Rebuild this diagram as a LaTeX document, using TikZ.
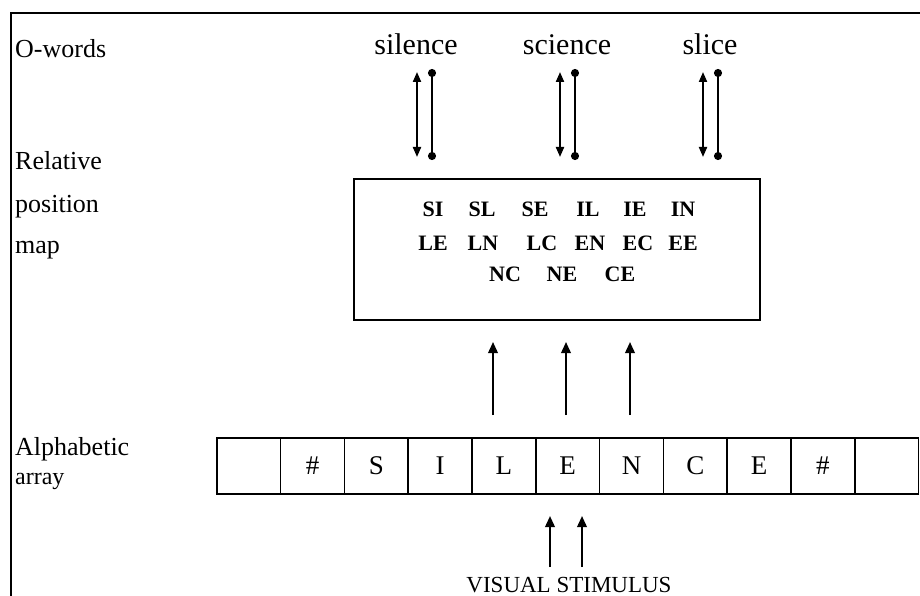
\documentclass[tikz,border=0pt]{standalone}
\usepackage{fontspec}
\setmainfont{Liberation Serif}
\usetikzlibrary{arrows.meta}
\tikzset{
  lbl/.style={anchor=base west, inner sep=0pt, font=\fontsize{26}{28}\selectfont},
  oword/.style={anchor=base, inner sep=0pt, font=\fontsize{30}{32}\selectfont},
  pair/.style={anchor=base, inner sep=0pt, font=\fontsize{22}{24}\selectfont\bfseries},
  cell/.style={draw, line width=1.6pt, minimum width=63.8pt, minimum height=56pt, inner sep=0pt, anchor=north west, font=\fontsize{27}{29}\selectfont},
  uparrow/.style={line width=2pt, -{Triangle[length=11pt,width=9.5pt]}},
  dblarrow/.style={line width=2pt, {Triangle[length=10pt,width=8pt]}-{Triangle[length=10pt,width=8pt]}},
  dotline/.style={line width=2pt, {Circle[length=8pt]}-{Circle[length=8pt]}},
  mapbox/.style={draw, line width=2pt, minimum width=406pt, minimum height=141pt, anchor=north west, inner sep=0pt}
}
\begin{document}
\begin{tikzpicture}[x=1pt,y=-1pt]
\useasboundingbox (0,0) rectangle (920,596);
% frame
\coordinate (fa) at (11,596);
\coordinate (fb) at (11,13);
\coordinate (fc) at (920,13);
\draw[line width=1.6pt] (fa) -- (fb) -- (fc);

% left labels
\node[lbl] (lo) at (15,58) {O-words};
\node[lbl] (lr) at (15,170) {Relative};
\node[lbl] (lp) at (15,212) {position};
\node[lbl] (lm) at (15,253) {map};
\node[lbl] (la) at (15,455) {Alphabetic};
\node[lbl, font=\fontsize{24}{26}\selectfont] (lar) at (15,484) {array};

% O-words
\node[oword] (w1) at (416,55) {silence};
\node[oword] (w2) at (567,55) {science};
\node[oword] (w3) at (710,55) {slice};

% map box
\node[mapbox] (map) at (353,178) {};
\node[pair] (p1) at (433,216) {SI};
\node[pair] (p2) at (482,216) {SL};
\node[pair] (p3) at (535,216) {SE};
\node[pair] (p4) at (588,216) {IL};
\node[pair] (p5) at (635,216) {IE};
\node[pair] (p6) at (683,216) {IN};
\node[pair] (p7) at (433,250) {LE};
\node[pair] (p8) at (483,250) {LN};
\node[pair] (p9) at (542,250) {LC};
\node[pair] (p10) at (590,250) {EN};
\node[pair] (p11) at (638,250) {EC};
\node[pair] (p12) at (683,250) {EE};
\node[pair] (p13) at (505,281) {NC};
\node[pair] (p14) at (562,281) {NE};
\node[pair] (p15) at (620,281) {CE};

% word <-> map connectors
\foreach \i/\xa/\xb in {1/417/432, 2/560/575, 3/703/718}{
  \coordinate (da\i) at (\xa,72);
  \coordinate (db\i) at (\xa,157);
  \coordinate (ea\i) at (\xb,69);
  \coordinate (eb\i) at (\xb,160);
  \draw[dblarrow] (da\i) -- (db\i);
  \draw[dotline] (ea\i) -- (eb\i);
}

% alphabetic array
\foreach \t [count=\i from 0] in {{},\#,S,I,L,E,N,C,E,\#,{}}{
  \node[cell] (c\i) at ({216+63.8*\i},437) {\t};
}

% array -> map arrows
\foreach \i/\x in {1/493, 2/566, 3/630}{
  \coordinate (ua\i) at (\x,415);
  \coordinate (ub\i) at (\x,342);
  \draw[uparrow] (ua\i) -- (ub\i);
}

% visual stimulus
\node[anchor=base, inner sep=0pt, font=\fontsize{23}{25}\selectfont] (vs) at (569,592) {VISUAL STIMULUS};
\coordinate (s1a) at (550,567);
\coordinate (s1b) at (550,516);
\coordinate (s2a) at (582,567);
\coordinate (s2b) at (582,516);
\draw[uparrow] (s1a) -- (s1b);
\draw[uparrow] (s2a) -- (s2b);
\end{tikzpicture}
\end{document}
